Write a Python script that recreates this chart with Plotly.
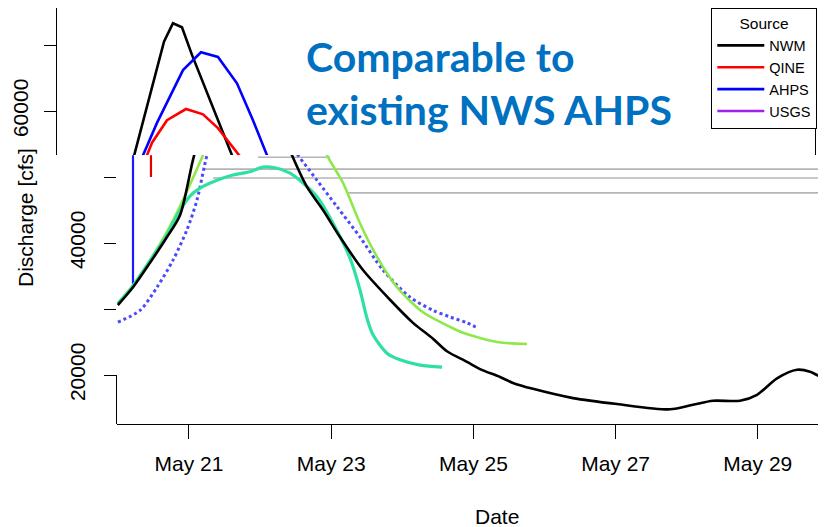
import plotly.graph_objects as go

# ---------------- data ----------------
nwm_t = ["2019-05-20 00:00", "2019-05-20 05:06", "2019-05-20 10:50", "2019-05-20 16:34", "2019-05-20 20:58",
         "2019-05-21 01:21", "2019-05-21 06:45", "2019-05-21 11:49", "2019-05-21 14:51", "2019-05-21 17:53",
         "2019-05-21 21:16", "2019-05-22 03:20", "2019-05-22 10:46", "2019-05-22 15:50", "2019-05-22 21:14",
         "2019-05-23 02:58", "2019-05-23 10:44", "2019-05-23 19:51", "2019-05-24 03:37", "2019-05-24 10:22",
         "2019-05-24 15:05", "2019-05-24 21:50", "2019-05-25 02:14", "2019-05-25 08:59", "2019-05-25 13:22",
         "2019-05-25 20:07", "2019-05-26 09:37", "2019-05-27 00:28", "2019-05-27 18:22", "2019-05-28 02:08",
         "2019-05-28 08:53", "2019-05-28 17:59", "2019-05-28 23:44", "2019-05-29 06:29", "2019-05-29 13:14",
         "2019-05-29 17:37", "2019-05-29 23:01"]
nwm_q = [30600, 33300, 37000, 40900, 44200,
         52600, 61700, 70500, 73300, 72700,
         68500, 61700, 53300, 48500, 45000,
         40900, 35900, 31400, 27900, 25500,
         23600, 22000, 20900, 19700, 18800,
         17900, 16500, 15600, 14800, 15500,
         16100, 16100, 17000, 19500, 20800,
         20500, 19200]

qine_t = ["2019-05-20 00:00", "2019-05-20 07:28", "2019-05-20 13:12", "2019-05-20 18:36", "2019-05-20 23:19",
          "2019-05-21 02:42", "2019-05-21 06:05", "2019-05-21 07:46", "2019-05-21 12:50", "2019-05-21 19:14",
          "2019-05-22 00:59", "2019-05-22 06:02", "2019-05-22 12:47", "2019-05-22 19:13", "2019-05-23 01:58",
          "2019-05-23 09:43", "2019-05-23 17:29", "2019-05-24 02:36", "2019-05-24 10:22", "2019-05-24 16:06",
          "2019-05-24 21:50", "2019-05-25 01:33"]
qine_q = [28000, 29800, 33300, 37400, 42000,
          46500, 53300, 55200, 58600, 60300,
          59500, 57400, 53300, 49500, 45500,
          40900, 35900, 31800, 29800, 28800,
          27900, 27100]

ahps_t = ["2019-05-20 00:00", "2019-05-20 05:06", "2019-05-20 10:50", "2019-05-20 16:34", "2019-05-20 21:58",
          "2019-05-21 04:44", "2019-05-21 09:27", "2019-05-21 18:14", "2019-05-22 00:18", "2019-05-22 06:02",
          "2019-05-22 12:27", "2019-05-22 17:51", "2019-05-22 22:35", "2019-05-23 03:59", "2019-05-23 09:43",
          "2019-05-23 15:28", "2019-05-23 22:13", "2019-05-24 06:59", "2019-05-24 16:06", "2019-05-24 20:29",
          "2019-05-25 07:58", "2019-05-25 18:05"]
ahps_q = [30900, 33600, 37400, 41700, 46500,
          53300, 58200, 66200, 68900, 68200,
          64200, 58600, 53300, 49100, 43000,
          37900, 33300, 29500, 27300, 26400,
          25000, 24700]

usgs_t = ["2019-05-20 00:00", "2019-05-20 05:06", "2019-05-20 10:50", "2019-05-20 16:34", "2019-05-20 20:17",
          "2019-05-21 00:20", "2019-05-21 03:43", "2019-05-21 09:27", "2019-05-21 14:51", "2019-05-21 20:35",
          "2019-05-22 00:59", "2019-05-22 05:02", "2019-05-22 10:05", "2019-05-22 14:29", "2019-05-22 19:13",
          "2019-05-23 00:37", "2019-05-23 06:21", "2019-05-23 09:43", "2019-05-23 12:05", "2019-05-23 14:07",
          "2019-05-23 18:50", "2019-05-23 23:13", "2019-05-24 05:58", "2019-05-24 13:24"]
usgs_q = [30800, 33500, 37300, 41200, 44400,
          47100, 48300, 49500, 50300, 50800,
          51500, 51400, 50600, 49100, 47000,
          43000, 37700, 32900, 28600, 26100,
          23300, 22300, 21500, 21200]

# horizontal grey artefact rows and short vertical artefacts seen in the picture
streak_q = [53000, 51200, 49850, 47600]
streak_start = ["2019-05-21 23:17", "2019-05-21 04:44", "2019-05-21 08:06", "2019-05-23 05:20"]
streak_end = ["2019-05-22 23:36", "2019-05-29 23:01", "2019-05-29 23:01", "2019-05-29 23:01"]
blue_spike_t = ["2019-05-20 05:06", "2019-05-20 05:06"]
blue_spike_q = [53300, 33300]
red_spike_t = ["2019-05-20 11:10", "2019-05-20 11:10"]
red_spike_q = [53300, 50000]

series_names = ["NWM", "QINE", "AHPS", "USGS"]
legend_colors = ["black", "#ff0000", "#0000ff", "#a020f0"]

x_ticks = ["2019-05-21", "2019-05-23", "2019-05-25", "2019-05-27", "2019-05-29"]
y_ticks_low = [20000, 30000, 40000, 50000]
y_text_low = ["20000", "", "40000", ""]
y_ticks_top = [60000, 70000]
y_text_top = ["60000", ""]

# ---------------- layout geometry ----------------
# the page body has an 8 px margin, so the figure is drawn 8 px in from the window corner
OFF = 8
W, H = 826 - OFF, 527 - OFF
ML, MT = 57 - OFF, 8 - OFF
PLOT_BOTTOM = 424 - OFF
MB, MR = H - PLOT_BOTTOM, 0
PW, PH = W - ML - MR, PLOT_BOTTOM - MT


def px(x):
    return (x - OFF - ML) / PW


def py(y):
    return (MT + PH - (y - OFF)) / PH


FONT = "Liberation Sans, Arial, Helvetica, sans-serif"

fig = go.Figure()

series = [(nwm_t, nwm_q), (qine_t, qine_q), (ahps_t, ahps_q), (usgs_t, usgs_q)]

# top strip (true colours, legend)
for (t, q), name, col in zip(series, series_names, legend_colors):
    fig.add_trace(go.Scatter(x=t, y=q, name=name, mode="lines",
                             line=dict(color=col, width=2.6),
                             xaxis="x2", yaxis="y2"))

# lower strip artefacts
for q, s, e in zip(streak_q, streak_start, streak_end):
    fig.add_trace(go.Scatter(x=[s, e], y=[q, q], mode="lines", showlegend=False,
                             line=dict(color="#b4b4b4", width=1.6), hoverinfo="skip"))
fig.add_trace(go.Scatter(x=blue_spike_t, y=blue_spike_q, mode="lines", showlegend=False,
                         line=dict(color="#1a1aff", width=2.2), hoverinfo="skip"))
fig.add_trace(go.Scatter(x=red_spike_t, y=red_spike_q, mode="lines", showlegend=False,
                         line=dict(color="#e00000", width=2.2), hoverinfo="skip"))

# lower strip (colours as they appear there)
fig.add_trace(go.Scatter(x=qine_t, y=qine_q, mode="lines", showlegend=False, name="QINE",
                         line=dict(color="#4a4aff", width=3, dash="dot", shape="spline", smoothing=0.8)))
fig.add_trace(go.Scatter(x=ahps_t, y=ahps_q, mode="lines", showlegend=False, name="AHPS",
                         line=dict(color="#8ee84a", width=2.6, shape="spline", smoothing=0.8)))
fig.add_trace(go.Scatter(x=usgs_t, y=usgs_q, mode="lines", showlegend=False, name="USGS",
                         line=dict(color="#2fe0a0", width=3.2, shape="spline", smoothing=0.8)))
fig.add_trace(go.Scatter(x=nwm_t, y=nwm_q, mode="lines", showlegend=False, name="NWM",
                         line=dict(color="black", width=2.6, shape="spline", smoothing=0.8)))

# helper trace for the short lower axis segment
fig.add_trace(go.Scatter(x=[], y=[], xaxis="x", yaxis="y3", showlegend=False, hoverinfo="skip"))

x_lo = "2019-05-19 23:42"
x_hi = "2019-05-29 23:01"
x2_hi = "2019-05-30 15:34"
y_lo, y_cut, y_hi = 12575, 53334, 75608

axis_font = dict(family=FONT, size=21, color="black")

fig.update_layout(
    width=W, height=H,
    margin=dict(l=ML, r=MR, t=MT, b=MB, autoexpand=False),
    paper_bgcolor="white", plot_bgcolor="rgba(0,0,0,0)",
    showlegend=True,
    xaxis=dict(domain=[px(117), 1], range=[x_lo, x_hi], type="date", anchor="y", automargin=False,
               tickvals=x_ticks, tickformat="%b %d", ticks="outside", ticklen=14,
               tickcolor="black", tickwidth=1.3, showline=True, linecolor="black", linewidth=1.3,
               showgrid=False, zeroline=False, tickfont=axis_font, ticklabelstandoff=7),
    yaxis=dict(domain=[0, py(155)], range=[y_lo, y_cut], anchor="x", automargin=False,
               tickvals=y_ticks_low, ticktext=y_text_low, ticks="outside", ticklen=12,
               tickcolor="black", tickwidth=1.3, showline=False, showgrid=False, zeroline=False,
               tickangle=-90, tickfont=axis_font, ticklabelstandoff=11),
    yaxis3=dict(domain=[0, py(375)], anchor="x", showline=True, linecolor="black", linewidth=1.3,
                showticklabels=False, ticks="", showgrid=False, zeroline=False, range=[0, 1],
                automargin=False),
    xaxis2=dict(domain=[0, px(815)], range=[x_lo, x2_hi], type="date", anchor="y2", side="top",
                showline=True, linecolor="black", linewidth=1.3, showticklabels=False, ticks="",
                showgrid=False, zeroline=False, automargin=False),
    yaxis2=dict(domain=[py(155), 1], range=[y_cut, y_hi], anchor="x2", automargin=False,
                tickvals=y_ticks_top, ticktext=y_text_top, ticks="outside", ticklen=12,
                tickcolor="black", tickwidth=1.3, showline=True, mirror=True, linecolor="black",
                linewidth=1.3, showgrid=False, zeroline=False, tickangle=-90, tickfont=axis_font,
                ticklabelstandoff=7),
    legend=dict(x=px(817), xanchor="right", y=1, yanchor="top",
                bgcolor="white", bordercolor="black", borderwidth=1.3, itemwidth=47,
                font=dict(family=FONT, size=14.5, color="black"),
                title=dict(text="Source", side="top center", font=dict(family=FONT, size=15.5)),
                tracegroupgap=0),
    annotations=[
        dict(text="<b>Comparable to<br>existing NWS AHPS</b>", xref="paper", yref="paper",
             x=px(304), y=py(83), xanchor="left", yanchor="middle", align="left", showarrow=False,
             font=dict(family="Lato, Open Sans, sans-serif", size=41, color="#0070C0")),
        dict(text="Date", xref="paper", yref="paper", x=px(497), y=py(516), xanchor="center",
             yanchor="middle", showarrow=False, font=axis_font),
        dict(text="Discharge [cfs]", xref="paper", yref="paper", x=px(25), y=py(218),
             xanchor="center", yanchor="middle", textangle=-90, showarrow=False, font=axis_font),
    ],
)

fig.write_html("out.html")
